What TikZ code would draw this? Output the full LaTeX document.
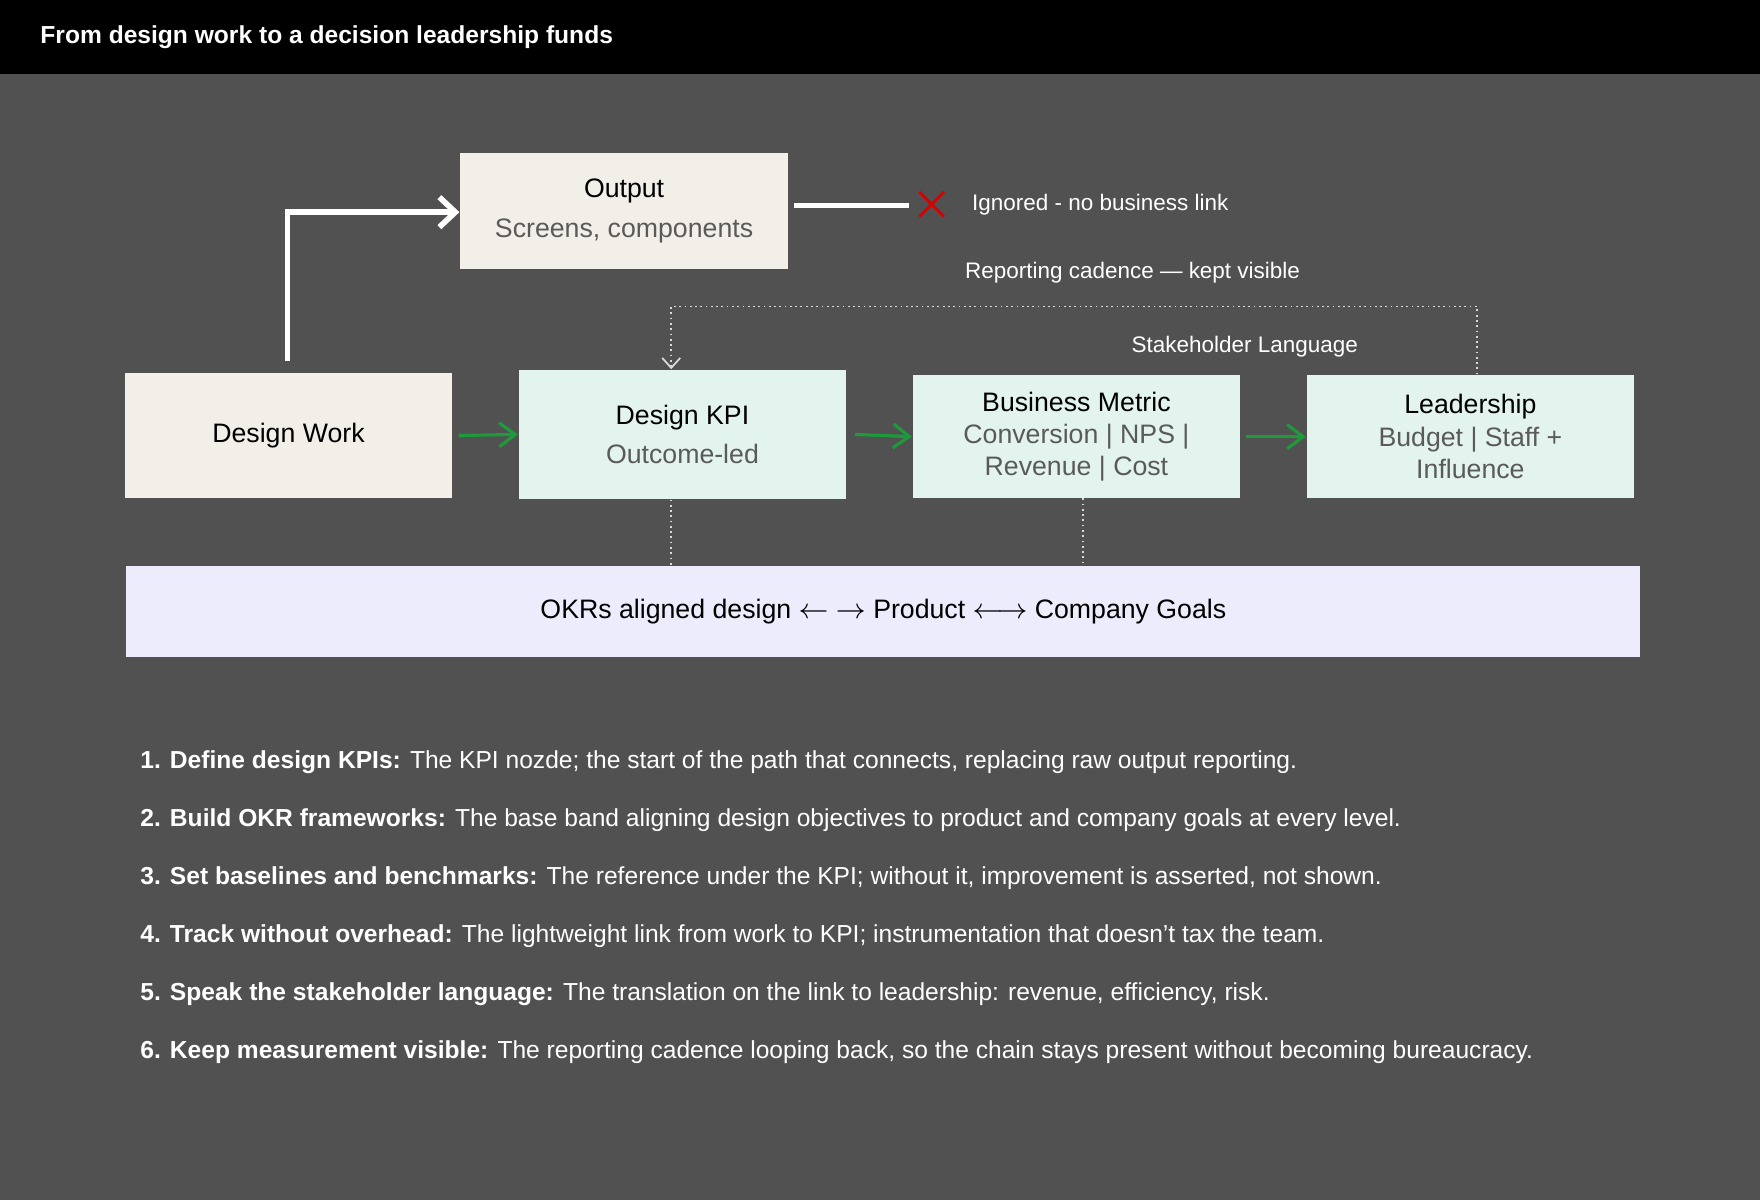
\documentclass[tikz,border=0pt]{standalone}
\usepackage{fontspec}
\setmainfont{Liberation Sans}
\usetikzlibrary{arrows.meta}
\definecolor{bg}{HTML}{515151}
\definecolor{cream}{HTML}{F2EFE8}
\definecolor{mint}{HTML}{E3F4EE}
\definecolor{lav}{HTML}{ECECFC}
\definecolor{sub}{HTML}{5A5A5A}
\definecolor{grn}{HTML}{1E9A3C}
\tikzset{
box/.style={draw=none,minimum width=3.28cm,minimum height=1.26cm,align=center,font=\fontsize{7.6}{9.2}\selectfont,text=black},
lbl/.style={text=white,font=\fontsize{6.4}{8}\selectfont},
item/.style={text=white,anchor=west,font=\fontsize{7}{8.5}\selectfont},
garrow/.style={grn,line width=0.9pt,-{Straight Barb[length=1.6mm,width=2.4mm]}},
dots/.style={white!85!black,densely dotted,line width=0.5pt}
}
\newcommand{\subt}[1]{{\color{sub}#1}}
\begin{document}
\begin{tikzpicture}[x=0.011225cm,y=-0.011225cm]
\fill[bg] (0,0) rectangle (1568,1069);
\fill[black] (0,0) rectangle (1568,66);
\node[anchor=west,text=white,font=\bfseries\fontsize{7}{8}\selectfont] (title) at (25,33) {From design work to a decision leadership funds};

\node[box,fill=cream,minimum height=1.16cm] (out) at (556,188) {Output\\[2pt]\subt{Screens, components}};
\node[box,fill=cream] (work) at (257,388) {Design Work};
\node[box,fill=mint,minimum height=1.29cm] (kpi) at (608,387) {Design KPI\\[2pt]\subt{Outcome-led}};
\node[box,fill=mint,minimum height=1.23cm] (metric) at (959,389) {Business Metric\\\subt{Conversion | NPS |}\\\subt{Revenue | Cost}};
\node[box,fill=mint,minimum height=1.23cm] (lead) at (1310,389) {Leadership\\\subt{Budget | Staff +}\\\subt{Influence}};
\node[box,fill=lav,minimum width=15.15cm,minimum height=0.91cm] (okr) at (787,545) {OKRs aligned design $\leftarrow$ $\rightarrow$ Product $\leftarrow\!\rightarrow$ Company Goals};

\coordinate (w1) at (256,322);
\coordinate (w2) at (256,189);
\draw[white,line width=1.6pt,-{Straight Barb[length=1.6mm,width=3mm]}] (w1) -- (w2) -- (out.west |- w2);

\coordinate (ig) at (810,183);
\draw[white,line width=1.6pt] (out.east |- ig) ++(5,0) -- (ig);
\node (x) at (830,182) {};
\draw[red!85!black,line width=0.8pt] (819,171) -- (841,193) (841,171) -- (819,193);
\node[lbl,anchor=west] (ign) at (855,182) {Ignored - no business link};

\node[lbl] (cad) at (1009,243) {Reporting cadence — kept visible};
\node[lbl] (stake) at (1109,309) {Stakeholder Language};

\coordinate (c1) at (1316,273);
\coordinate (c2) at (598,273);
\draw[dots,-{Straight Barb[length=1mm,width=1.8mm]}] (lead.north -| c1) -- (c1) -- (c2) -- (kpi.north -| c2);

\draw[garrow] (work.east) ++(5,0) -- (kpi.west);
\draw[garrow] (kpi.east) ++(7,0) -- (metric.west);
\draw[garrow] (metric.east) ++(4,0) -- (lead.west);

\draw[dots] (kpi.south -| c2) -- (okr.north -| c2);
\coordinate (c3) at (965,444);
\draw[dots] (c3) -- (okr.north -| c3);

\node[item] (i1) at (114,679) {\textbf{1. Define design KPIs:} The KPI nozde; the start of the path that connects, replacing raw output reporting.};
\node[item] (i2) at (114,731) {\textbf{2. Build OKR frameworks:} The base band aligning design objectives to product and company goals at every level.};
\node[item] (i3) at (114,782) {\textbf{3. Set baselines and benchmarks:} The reference under the KPI; without it, improvement is asserted, not shown.};
\node[item] (i4) at (114,834) {\textbf{4. Track without overhead:} The lightweight link from work to KPI; instrumentation that doesn't tax the team.};
\node[item] (i5) at (114,886) {\textbf{5. Speak the stakeholder language:} The translation on the link to leadership: revenue, efficiency, risk.};
\node[item] (i6) at (114,937) {\textbf{6. Keep measurement visible:} The reporting cadence looping back, so the chain stays present without becoming bureaucracy.};
\end{tikzpicture}
\end{document}
